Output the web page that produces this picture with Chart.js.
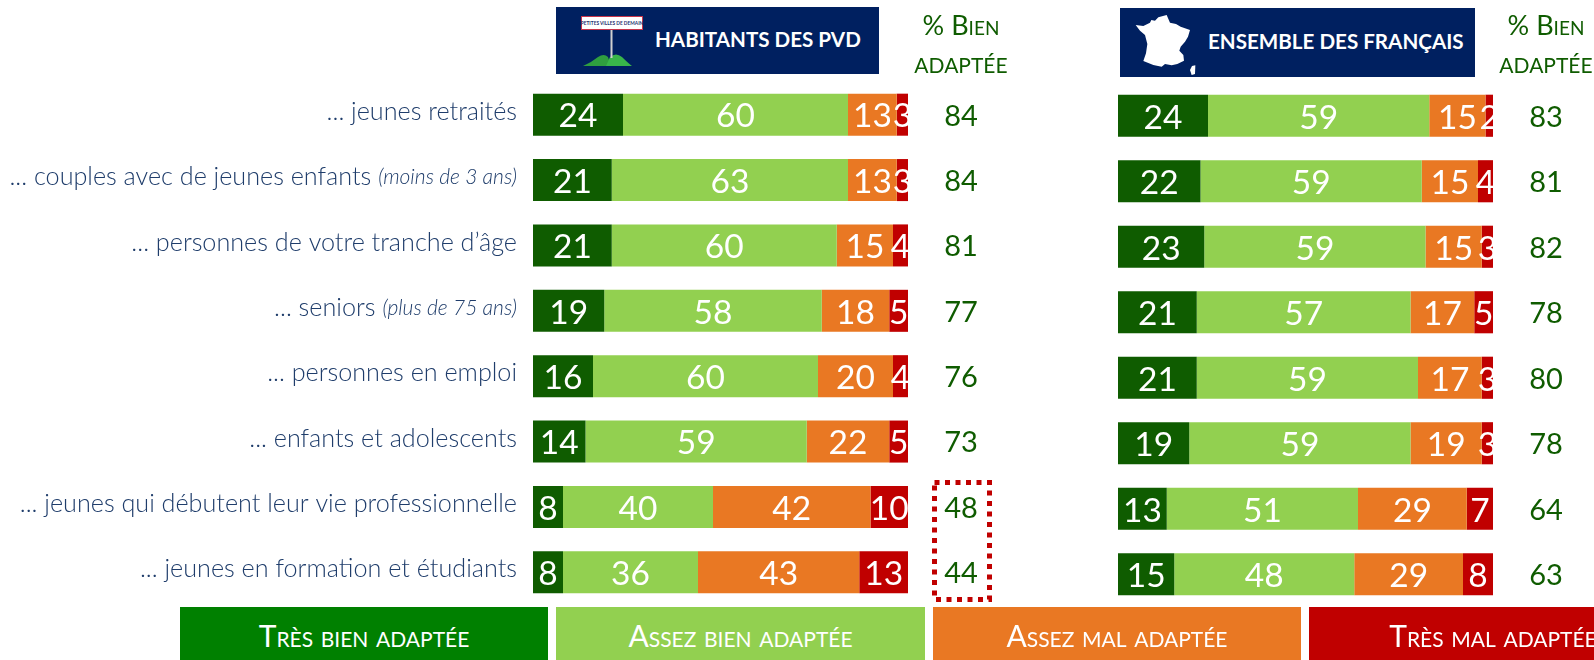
<!DOCTYPE html>
<html lang="fr">
<head>
<meta charset="utf-8">
<title>Habitants des PVD</title>
<script src="https://cdn.jsdelivr.net/npm/chart.js@4"></script>
<style>
    html, body { margin: 0; padding: 0; background: #fff; }
    body { width: 1594px; height: 660px; overflow: hidden; position: relative; font-family: Lato, sans-serif; }
    canvas { position: absolute; top: 0; }
    .header { position: absolute; background: #002060; color: #fff; font-weight: 700; font-size: 20.600px; line-height: 1; white-space: nowrap; }
    .header span { position: absolute; top: 50%; transform: translateY(-56%); }
    .bien { position: absolute; top: 6px; width: 130px; text-align: center; color: #0f5c00; font-variant: small-caps; }
    .bien div { font-size: 27px; line-height: 37px; height: 37px; }
    .bien div + div { font-size: 29.500px; }
    .legend { position: absolute; top: 607px; height: 53px; line-height: 57px; text-align: center; color: #fff; font-size: 30px; font-weight: 400; font-variant: small-caps; white-space: nowrap; overflow: hidden; }
    svg { position: absolute; overflow: visible; }
</style>
</head>
<body>

<canvas id="chartPvd" style="left:0" width="1060" height="660"></canvas>
<canvas id="chartFr" style="left:1060px" width="534" height="660"></canvas>

<div class="header" style="left:556px;top:7px;width:323px;height:67px"><span style="left:99px">HABITANTS DES PVD</span></div>
<div class="header" style="left:1120px;top:8px;width:355px;height:69px"><span style="left:88px">ENSEMBLE DES FRANÇAIS</span></div>

<svg style="left:556px;top:7px" width="323" height="67">
    <path d="M27 59 Q36 55 42 50 Q48 46 52 50 L55 59 Z" fill="#2f9e3f"/>
    <path d="M50 59 L54 50 Q60 45 66 50 Q72 56 76 59 Z" fill="#39b54a"/>
    <rect x="54.500" y="22" width="2" height="29" fill="#d0d0d0"/>
    <rect x="25.500" y="9.500" width="61" height="13" fill="#fff" stroke="#c8334a" stroke-width="1"/>
    <text x="56" y="18" font-size="4.800" font-family="Lato" font-weight="700" fill="#1d2f6f" text-anchor="middle">PETITES VILLES DE DEMAIN</text>
</svg>

<svg style="left:1090px;top:0" width="168" height="80" viewBox="0 0 504 240">
    <path fill="#fff" d="M137 75 L160 78 L180 68 L184 60 L195 62 L205 52 L230 45 L240 68 L258 72 L272 80 L300 90 L294 110 L285 125 L272 140 L268 152 L280 165 L282 182 L262 192 L245 196 L225 192 L215 200 L190 195 L160 183 L168 160 L172 132 L165 105 L150 92 Z"/>
    <path fill="#fff" d="M306 198 L316 196 L315 222 L305 225 L300 210 Z"/>
</svg>

<div class="bien" style="left:896px"><div>% Bien</div><div>adaptée</div></div>
<div class="bien" style="left:1481px"><div>% Bien</div><div>adaptée</div></div>

<svg style="left:932px;top:480px" width="60" height="122">
    <rect x="2.500" y="2.500" width="55" height="117" fill="none" stroke="#c00000" stroke-width="5" stroke-dasharray="5 5.500"/>
</svg>

<div class="legend" style="left:180px;width:368px;background:#008000">Très bien adaptée</div>
<div class="legend" style="left:556px;width:369px;background:#92d050">Assez bien adaptée</div>
<div class="legend" style="left:933px;width:368px;background:#e97823">Assez mal adaptée</div>
<div class="legend" style="left:1309px;width:368px;background:#c00000">Très mal adaptée</div>

<script>
const categories = [
    "... jeunes retraités",
    "... couples avec de jeunes enfants",
    "... personnes de votre tranche d’âge",
    "... seniors",
    "... personnes en emploi",
    "... enfants et adolescents",
    "... jeunes qui débutent leur vie professionnelle",
    "... jeunes en formation et étudiants"
];
const categoryNotes = ["", "(moins de 3 ans)", "", "(plus de 75 ans)", "", "", "", ""];

const seriesNames = ["Très bien adaptée", "Assez bien adaptée", "Assez mal adaptée", "Très mal adaptée"];
const seriesColors = ["#0f5c00", "#92d050", "#e97823", "#c00000"];

const pvdTresBien = [24, 21, 21, 19, 16, 14, 8, 8];
const pvdAssezBien = [60, 63, 60, 58, 60, 59, 40, 36];
const pvdAssezMal = [13, 13, 15, 18, 20, 22, 42, 43];
const pvdTresMal = [3, 3, 4, 5, 4, 5, 10, 13];
const pvdBien = [84, 84, 81, 77, 76, 73, 48, 44];

const frTresBien = [24, 22, 23, 21, 21, 19, 13, 15];
const frAssezBien = [59, 59, 59, 57, 59, 59, 51, 48];
const frAssezMal = [15, 15, 15, 17, 17, 19, 29, 29];
const frTresMal = [2, 4, 3, 5, 3, 3, 7, 8];
const frBien = [83, 81, 82, 78, 80, 78, 64, 63];

// white numbers inside the segments, cut at the end of the bar like the original
const segmentLabels = {
    id: "segmentLabels",
    afterDatasetsDraw(chart) {
        const ctx = chart.ctx, area = chart.chartArea;
        ctx.save();
        ctx.beginPath();
        ctx.rect(area.left, area.top, area.right - area.left, area.bottom - area.top);
        ctx.clip();
        ctx.font = "400 33.500px Lato";
        ctx.fillStyle = "#fff";
        ctx.textAlign = "center";
        ctx.textBaseline = "middle";
        chart.data.datasets.forEach((ds, i) => {
            chart.getDatasetMeta(i).data.forEach((bar, j) => {
                ctx.fillText(ds.data[j], (bar.x + bar.base) / 2, bar.y + 2);
            });
        });
        ctx.restore();
    }
};

// "% bien adaptée" column next to the bars
const bienColumn = {
    id: "bienColumn",
    afterDraw(chart, args, opts) {
        const ctx = chart.ctx, y = chart.scales.y;
        ctx.save();
        ctx.font = "400 29px Lato";
        ctx.fillStyle = "#0f5c00";
        ctx.textAlign = "center";
        ctx.textBaseline = "middle";
        opts.values.forEach((v, i) => {
            ctx.fillText(v, chart.chartArea.right + opts.offset, y.getPixelForValue(i) + 1.5);
        });
        ctx.restore();
    }
};

// row labels, the note in parentheses is smaller and italic
const rowLabels = {
    id: "rowLabels",
    afterDraw(chart, args, opts) {
        if (!opts.show) return;
        const ctx = chart.ctx, y = chart.scales.y;
        ctx.save();
        ctx.fillStyle = "#1f3d6b";
        ctx.textBaseline = "middle";
        ctx.textAlign = "right";
        categories.forEach((name, i) => {
            let x = 517;
            const py = y.getPixelForValue(i) - 3;
            if (categoryNotes[i]) {
                ctx.font = "italic 300 21px Lato";
                ctx.fillText(categoryNotes[i], x, py);
                x -= ctx.measureText(categoryNotes[i]).width + 7;
            }
            ctx.font = "300 25.200px Lato";
            ctx.fillText(name, x, py);
        });
        ctx.restore();
    }
};

function drawPanel(id, series, bien, padding, offset, showLabels) {
    return new Chart(document.getElementById(id), {
        type: "bar",
        data: {
            labels: categories,
            datasets: series.map((values, i) => ({
                label: seriesNames[i],
                data: values,
                backgroundColor: seriesColors[i],
                borderWidth: 0,
                barPercentage: 0.643,
                categoryPercentage: 1
            }))
        },
        options: {
            indexAxis: "y",
            responsive: false,
            animation: false,
            layout: { padding: padding },
            scales: {
                x: { stacked: true, min: 0, max: 100, display: false },
                y: { stacked: true, display: false }
            },
            plugins: {
                legend: { display: false },
                tooltip: { enabled: false },
                bienColumn: { values: bien, offset: offset },
                rowLabels: { show: showLabels }
            }
        },
        plugins: [segmentLabels, bienColumn, rowLabels]
    });
}

drawPanel("chartPvd",
    [pvdTresBien, pvdAssezBien, pvdAssezMal, pvdTresMal], pvdBien,
    { left: 533, right: 152, top: 82, bottom: 55 }, 53, true);

drawPanel("chartFr",
    [frTresBien, frAssezBien, frAssezMal, frTresMal], frBien,
    { left: 58, right: 101, top: 83, bottom: 53 }, 53, false);
</script>
</body>
</html>
